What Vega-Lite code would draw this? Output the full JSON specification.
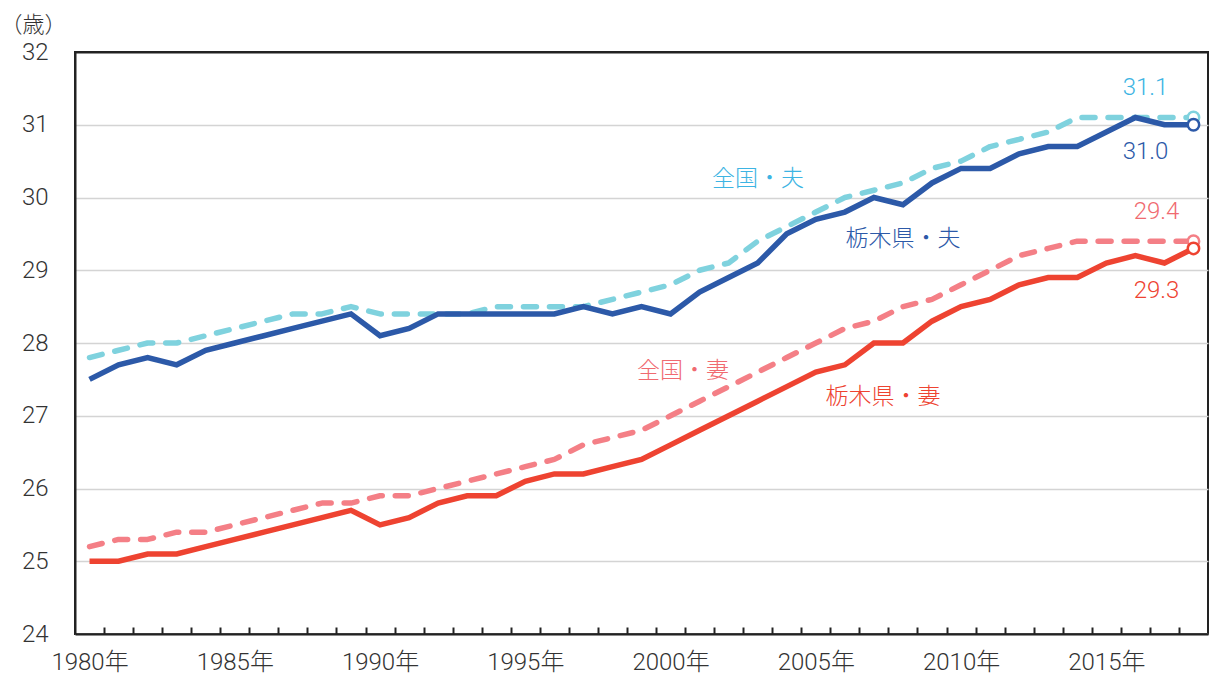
{
  "$schema": "https://vega.github.io/schema/vega-lite/v6.json",
  "width": 1133,
  "height": 582,
  "autosize": "none",
  "padding": {"left": 75, "top": 52, "right": 8, "bottom": 45},
  "background": "white",
  "view": {"stroke": "#222222", "strokeWidth": 2},
  "datasets": {
    "ages": [
      {"year": 1980, "series": "全国・夫", "value": 27.8}, {"year": 1981, "series": "全国・夫", "value": 27.9}, {"year": 1982, "series": "全国・夫", "value": 28.0}, {"year": 1983, "series": "全国・夫", "value": 28.0}, {"year": 1984, "series": "全国・夫", "value": 28.1}, {"year": 1985, "series": "全国・夫", "value": 28.2}, {"year": 1986, "series": "全国・夫", "value": 28.3}, {"year": 1987, "series": "全国・夫", "value": 28.4}, {"year": 1988, "series": "全国・夫", "value": 28.4}, {"year": 1989, "series": "全国・夫", "value": 28.5}, {"year": 1990, "series": "全国・夫", "value": 28.4}, {"year": 1991, "series": "全国・夫", "value": 28.4}, {"year": 1992, "series": "全国・夫", "value": 28.4}, {"year": 1993, "series": "全国・夫", "value": 28.4}, {"year": 1994, "series": "全国・夫", "value": 28.5}, {"year": 1995, "series": "全国・夫", "value": 28.5}, {"year": 1996, "series": "全国・夫", "value": 28.5}, {"year": 1997, "series": "全国・夫", "value": 28.5}, {"year": 1998, "series": "全国・夫", "value": 28.6}, {"year": 1999, "series": "全国・夫", "value": 28.7}, {"year": 2000, "series": "全国・夫", "value": 28.8}, {"year": 2001, "series": "全国・夫", "value": 29.0}, {"year": 2002, "series": "全国・夫", "value": 29.1}, {"year": 2003, "series": "全国・夫", "value": 29.4}, {"year": 2004, "series": "全国・夫", "value": 29.6}, {"year": 2005, "series": "全国・夫", "value": 29.8}, {"year": 2006, "series": "全国・夫", "value": 30.0}, {"year": 2007, "series": "全国・夫", "value": 30.1}, {"year": 2008, "series": "全国・夫", "value": 30.2}, {"year": 2009, "series": "全国・夫", "value": 30.4}, {"year": 2010, "series": "全国・夫", "value": 30.5}, {"year": 2011, "series": "全国・夫", "value": 30.7}, {"year": 2012, "series": "全国・夫", "value": 30.8}, {"year": 2013, "series": "全国・夫", "value": 30.9}, {"year": 2014, "series": "全国・夫", "value": 31.1}, {"year": 2015, "series": "全国・夫", "value": 31.1}, {"year": 2016, "series": "全国・夫", "value": 31.1}, {"year": 2017, "series": "全国・夫", "value": 31.1}, {"year": 2018, "series": "全国・夫", "value": 31.1},
      {"year": 1980, "series": "全国・妻", "value": 25.2}, {"year": 1981, "series": "全国・妻", "value": 25.3}, {"year": 1982, "series": "全国・妻", "value": 25.3}, {"year": 1983, "series": "全国・妻", "value": 25.4}, {"year": 1984, "series": "全国・妻", "value": 25.4}, {"year": 1985, "series": "全国・妻", "value": 25.5}, {"year": 1986, "series": "全国・妻", "value": 25.6}, {"year": 1987, "series": "全国・妻", "value": 25.7}, {"year": 1988, "series": "全国・妻", "value": 25.8}, {"year": 1989, "series": "全国・妻", "value": 25.8}, {"year": 1990, "series": "全国・妻", "value": 25.9}, {"year": 1991, "series": "全国・妻", "value": 25.9}, {"year": 1992, "series": "全国・妻", "value": 26.0}, {"year": 1993, "series": "全国・妻", "value": 26.1}, {"year": 1994, "series": "全国・妻", "value": 26.2}, {"year": 1995, "series": "全国・妻", "value": 26.3}, {"year": 1996, "series": "全国・妻", "value": 26.4}, {"year": 1997, "series": "全国・妻", "value": 26.6}, {"year": 1998, "series": "全国・妻", "value": 26.7}, {"year": 1999, "series": "全国・妻", "value": 26.8}, {"year": 2000, "series": "全国・妻", "value": 27.0}, {"year": 2001, "series": "全国・妻", "value": 27.2}, {"year": 2002, "series": "全国・妻", "value": 27.4}, {"year": 2003, "series": "全国・妻", "value": 27.6}, {"year": 2004, "series": "全国・妻", "value": 27.8}, {"year": 2005, "series": "全国・妻", "value": 28.0}, {"year": 2006, "series": "全国・妻", "value": 28.2}, {"year": 2007, "series": "全国・妻", "value": 28.3}, {"year": 2008, "series": "全国・妻", "value": 28.5}, {"year": 2009, "series": "全国・妻", "value": 28.6}, {"year": 2010, "series": "全国・妻", "value": 28.8}, {"year": 2011, "series": "全国・妻", "value": 29.0}, {"year": 2012, "series": "全国・妻", "value": 29.2}, {"year": 2013, "series": "全国・妻", "value": 29.3}, {"year": 2014, "series": "全国・妻", "value": 29.4}, {"year": 2015, "series": "全国・妻", "value": 29.4}, {"year": 2016, "series": "全国・妻", "value": 29.4}, {"year": 2017, "series": "全国・妻", "value": 29.4}, {"year": 2018, "series": "全国・妻", "value": 29.4},
      {"year": 1980, "series": "栃木県・夫", "value": 27.5}, {"year": 1981, "series": "栃木県・夫", "value": 27.7}, {"year": 1982, "series": "栃木県・夫", "value": 27.8}, {"year": 1983, "series": "栃木県・夫", "value": 27.7}, {"year": 1984, "series": "栃木県・夫", "value": 27.9}, {"year": 1985, "series": "栃木県・夫", "value": 28.0}, {"year": 1986, "series": "栃木県・夫", "value": 28.1}, {"year": 1987, "series": "栃木県・夫", "value": 28.2}, {"year": 1988, "series": "栃木県・夫", "value": 28.3}, {"year": 1989, "series": "栃木県・夫", "value": 28.4}, {"year": 1990, "series": "栃木県・夫", "value": 28.1}, {"year": 1991, "series": "栃木県・夫", "value": 28.2}, {"year": 1992, "series": "栃木県・夫", "value": 28.4}, {"year": 1993, "series": "栃木県・夫", "value": 28.4}, {"year": 1994, "series": "栃木県・夫", "value": 28.4}, {"year": 1995, "series": "栃木県・夫", "value": 28.4}, {"year": 1996, "series": "栃木県・夫", "value": 28.4}, {"year": 1997, "series": "栃木県・夫", "value": 28.5}, {"year": 1998, "series": "栃木県・夫", "value": 28.4}, {"year": 1999, "series": "栃木県・夫", "value": 28.5}, {"year": 2000, "series": "栃木県・夫", "value": 28.4}, {"year": 2001, "series": "栃木県・夫", "value": 28.7}, {"year": 2002, "series": "栃木県・夫", "value": 28.9}, {"year": 2003, "series": "栃木県・夫", "value": 29.1}, {"year": 2004, "series": "栃木県・夫", "value": 29.5}, {"year": 2005, "series": "栃木県・夫", "value": 29.7}, {"year": 2006, "series": "栃木県・夫", "value": 29.8}, {"year": 2007, "series": "栃木県・夫", "value": 30.0}, {"year": 2008, "series": "栃木県・夫", "value": 29.9}, {"year": 2009, "series": "栃木県・夫", "value": 30.2}, {"year": 2010, "series": "栃木県・夫", "value": 30.4}, {"year": 2011, "series": "栃木県・夫", "value": 30.4}, {"year": 2012, "series": "栃木県・夫", "value": 30.6}, {"year": 2013, "series": "栃木県・夫", "value": 30.7}, {"year": 2014, "series": "栃木県・夫", "value": 30.7}, {"year": 2015, "series": "栃木県・夫", "value": 30.9}, {"year": 2016, "series": "栃木県・夫", "value": 31.1}, {"year": 2017, "series": "栃木県・夫", "value": 31.0}, {"year": 2018, "series": "栃木県・夫", "value": 31.0},
      {"year": 1980, "series": "栃木県・妻", "value": 25.0}, {"year": 1981, "series": "栃木県・妻", "value": 25.0}, {"year": 1982, "series": "栃木県・妻", "value": 25.1}, {"year": 1983, "series": "栃木県・妻", "value": 25.1}, {"year": 1984, "series": "栃木県・妻", "value": 25.2}, {"year": 1985, "series": "栃木県・妻", "value": 25.3}, {"year": 1986, "series": "栃木県・妻", "value": 25.4}, {"year": 1987, "series": "栃木県・妻", "value": 25.5}, {"year": 1988, "series": "栃木県・妻", "value": 25.6}, {"year": 1989, "series": "栃木県・妻", "value": 25.7}, {"year": 1990, "series": "栃木県・妻", "value": 25.5}, {"year": 1991, "series": "栃木県・妻", "value": 25.6}, {"year": 1992, "series": "栃木県・妻", "value": 25.8}, {"year": 1993, "series": "栃木県・妻", "value": 25.9}, {"year": 1994, "series": "栃木県・妻", "value": 25.9}, {"year": 1995, "series": "栃木県・妻", "value": 26.1}, {"year": 1996, "series": "栃木県・妻", "value": 26.2}, {"year": 1997, "series": "栃木県・妻", "value": 26.2}, {"year": 1998, "series": "栃木県・妻", "value": 26.3}, {"year": 1999, "series": "栃木県・妻", "value": 26.4}, {"year": 2000, "series": "栃木県・妻", "value": 26.6}, {"year": 2001, "series": "栃木県・妻", "value": 26.8}, {"year": 2002, "series": "栃木県・妻", "value": 27.0}, {"year": 2003, "series": "栃木県・妻", "value": 27.2}, {"year": 2004, "series": "栃木県・妻", "value": 27.4}, {"year": 2005, "series": "栃木県・妻", "value": 27.6}, {"year": 2006, "series": "栃木県・妻", "value": 27.7}, {"year": 2007, "series": "栃木県・妻", "value": 28.0}, {"year": 2008, "series": "栃木県・妻", "value": 28.0}, {"year": 2009, "series": "栃木県・妻", "value": 28.3}, {"year": 2010, "series": "栃木県・妻", "value": 28.5}, {"year": 2011, "series": "栃木県・妻", "value": 28.6}, {"year": 2012, "series": "栃木県・妻", "value": 28.8}, {"year": 2013, "series": "栃木県・妻", "value": 28.9}, {"year": 2014, "series": "栃木県・妻", "value": 28.9}, {"year": 2015, "series": "栃木県・妻", "value": 29.1}, {"year": 2016, "series": "栃木県・妻", "value": 29.2}, {"year": 2017, "series": "栃木県・妻", "value": 29.1}, {"year": 2018, "series": "栃木県・妻", "value": 29.3}
    ],
    "names": [
      {"series": "全国・夫", "year": 2003.01, "value": 30.25},
      {"series": "栃木県・夫", "year": 2008.0, "value": 29.43},
      {"series": "全国・妻", "year": 2000.43, "value": 27.62},
      {"series": "栃木県・妻", "year": 2007.31, "value": 27.26}
    ]
  },
  "data": {"name": "ages"},
  "layer": [
    {
      "transform": [{"filter": "indexof(datum.series, '全国') === 0"}],
      "mark": {"type": "line", "strokeWidth": 5.5, "strokeCap": "round", "strokeJoin": "round", "strokeDash": [13, 13]},
      "encoding": {
        "x": {"field": "year", "type": "quantitative",
          "scale": {"domain": [1979.5, 2018.5], "nice": false, "zero": false},
          "axis": {"orient": "bottom", "values": [1980.5, 1981.5, 1982.5, 1983.5, 1984.5, 1985.5, 1986.5, 1987.5, 1988.5, 1989.5, 1990.5, 1991.5, 1992.5, 1993.5, 1994.5, 1995.5, 1996.5, 1997.5, 1998.5, 1999.5, 2000.5, 2001.5, 2002.5, 2003.5, 2004.5, 2005.5, 2006.5, 2007.5, 2008.5, 2009.5, 2010.5, 2011.5, 2012.5, 2013.5, 2014.5, 2015.5, 2016.5, 2017.5],
            "labels": false, "ticks": true, "tickSize": -7, "tickColor": "#222222", "tickWidth": 2,
            "domain": true, "domainColor": "#222222", "domainWidth": 2, "grid": false, "title": null, "zindex": 1}},
        "y": {"field": "value", "type": "quantitative",
          "scale": {"domain": [24, 32], "nice": false, "zero": false},
          "axis": {"values": [24, 25, 26, 27, 28, 29, 30, 31, 32], "format": "d", "grid": true,
            "gridColor": {"condition": {"test": "datum.value === 32", "value": "#222222"}, "value": "#d4d4d4"},
            "gridWidth": {"condition": {"test": "datum.value === 32", "value": 2}, "value": 1.5},
            "domain": true, "domainColor": "#222222", "domainWidth": 2, "ticks": false, "tickSize": 0,
            "labelFont": "Roboto, sans-serif", "labelFontWeight": 300, "labelFontSize": 24, "labelColor": "#333333", "labelPadding": 27,
            "title": "（歳）", "titleAngle": 0, "titleX": -75, "titleY": -28, "titleAlign": "left", "titleBaseline": "middle",
            "titleFont": "Noto Sans CJK JP", "titleFontSize": 22, "titleFontWeight": 300, "titleColor": "#333333"}},
        "stroke": {"field": "series", "type": "nominal", "legend": null,
          "scale": {"domain": ["栃木県・夫", "全国・夫", "栃木県・妻", "全国・妻"], "range": ["#2C59A8", "#7FD2DE", "#EE4331", "#F47F86"]}}
      }
    },
    {
      "transform": [{"filter": "indexof(datum.series, '栃木県') === 0"}],
      "mark": {"type": "line", "strokeWidth": 5.5, "strokeCap": "butt", "strokeJoin": "miter"},
      "encoding": {
        "x": {"field": "year", "type": "quantitative",
          "scale": {"domain": [1979.5, 2018.5], "nice": false, "zero": false},
          "axis": {"orient": "bottom", "values": [1980, 1985, 1990, 1995, 2000, 2005, 2010, 2015],
            "labelExpr": "datum.value + '年'", "ticks": false, "tickSize": 0, "domain": false, "grid": false, "title": null,
            "labelFont": "Roboto, Noto Sans CJK JP, sans-serif", "labelFontWeight": 300, "labelFontSize": 24, "labelColor": "#333333",
            "labelPadding": 16, "labelFlush": false, "labelOverlap": false}},
        "y": {"field": "value", "type": "quantitative", "scale": {"domain": [24, 32], "nice": false, "zero": false}},
        "stroke": {"field": "series", "type": "nominal", "legend": null}
      }
    },
    {
      "transform": [{"filter": "datum.year === 2018"}],
      "mark": {"type": "circle", "fill": "white", "fillOpacity": 1, "opacity": 1, "strokeWidth": 2.5, "size": 130},
      "encoding": {
        "x": {"field": "year", "type": "quantitative", "scale": {"domain": [1979.5, 2018.5], "nice": false, "zero": false}, "axis": null},
        "y": {"field": "value", "type": "quantitative", "scale": {"domain": [24, 32], "nice": false, "zero": false}},
        "stroke": {"field": "series", "type": "nominal", "legend": null}
      }
    },
    {
      "transform": [{"filter": "datum.year === 2018 && datum.series === '全国・夫'"}],
      "mark": {"type": "text", "dx": -48, "dy": -29, "align": "center", "baseline": "middle", "fontSize": 24, "fontWeight": 300, "font": "Roboto, sans-serif"},
      "encoding": {
        "x": {"field": "year", "type": "quantitative", "scale": {"domain": [1979.5, 2018.5], "nice": false, "zero": false}, "axis": null},
        "y": {"field": "value", "type": "quantitative", "scale": {"domain": [24, 32], "nice": false, "zero": false}},
        "text": {"field": "value", "type": "quantitative", "format": ".1f"},
        "fill": {"field": "series", "type": "nominal", "legend": null,
          "scale": {"domain": ["栃木県・夫", "全国・夫", "栃木県・妻", "全国・妻"], "range": ["#2C59A8", "#3DB4E3", "#EE4331", "#F06A70"]}}
      }
    },
    {
      "transform": [{"filter": "datum.year === 2018 && datum.series === '栃木県・夫'"}],
      "mark": {"type": "text", "dx": -48, "dy": 27, "align": "center", "baseline": "middle", "fontSize": 24, "fontWeight": 300, "font": "Roboto, sans-serif"},
      "encoding": {
        "x": {"field": "year", "type": "quantitative", "scale": {"domain": [1979.5, 2018.5], "nice": false, "zero": false}, "axis": null},
        "y": {"field": "value", "type": "quantitative", "scale": {"domain": [24, 32], "nice": false, "zero": false}},
        "text": {"field": "value", "type": "quantitative", "format": ".1f"},
        "fill": {"field": "series", "type": "nominal", "legend": null}
      }
    },
    {
      "transform": [{"filter": "datum.year === 2018 && datum.series === '全国・妻'"}],
      "mark": {"type": "text", "dx": -37, "dy": -29, "align": "center", "baseline": "middle", "fontSize": 24, "fontWeight": 300, "font": "Roboto, sans-serif"},
      "encoding": {
        "x": {"field": "year", "type": "quantitative", "scale": {"domain": [1979.5, 2018.5], "nice": false, "zero": false}, "axis": null},
        "y": {"field": "value", "type": "quantitative", "scale": {"domain": [24, 32], "nice": false, "zero": false}},
        "text": {"field": "value", "type": "quantitative", "format": ".1f"},
        "fill": {"field": "series", "type": "nominal", "legend": null}
      }
    },
    {
      "transform": [{"filter": "datum.year === 2018 && datum.series === '栃木県・妻'"}],
      "mark": {"type": "text", "dx": -37, "dy": 43, "align": "center", "baseline": "middle", "fontSize": 24, "fontWeight": 300, "font": "Roboto, sans-serif"},
      "encoding": {
        "x": {"field": "year", "type": "quantitative", "scale": {"domain": [1979.5, 2018.5], "nice": false, "zero": false}, "axis": null},
        "y": {"field": "value", "type": "quantitative", "scale": {"domain": [24, 32], "nice": false, "zero": false}},
        "text": {"field": "value", "type": "quantitative", "format": ".1f"},
        "fill": {"field": "series", "type": "nominal", "legend": null}
      }
    },
    {
      "data": {"name": "names"},
      "mark": {"type": "text", "align": "center", "baseline": "middle", "fontSize": 23, "fontWeight": 300, "font": "Noto Sans CJK JP"},
      "encoding": {
        "x": {"field": "year", "type": "quantitative", "scale": {"domain": [1979.5, 2018.5], "nice": false, "zero": false}, "axis": null},
        "y": {"field": "value", "type": "quantitative", "scale": {"domain": [24, 32], "nice": false, "zero": false}},
        "text": {"field": "series", "type": "nominal"},
        "fill": {"field": "series", "type": "nominal", "legend": null}
      }
    }
  ],
  "resolve": {"axis": {"x": "independent"}}
}
